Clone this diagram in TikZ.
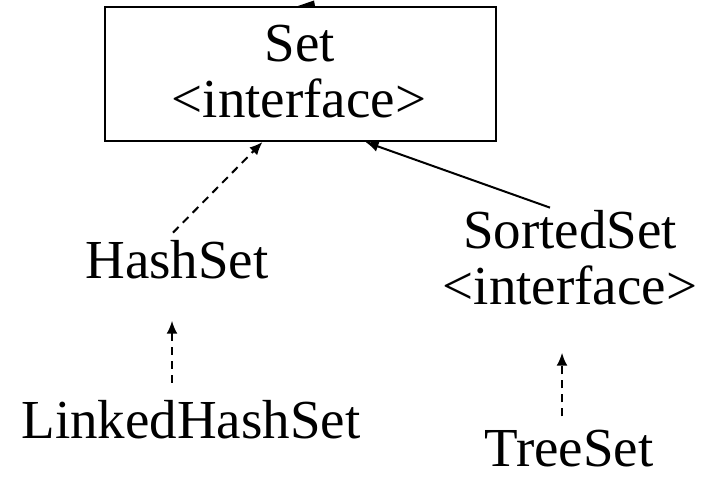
\documentclass[tikz,border=0pt]{standalone}
\usepackage{fontspec}
\setmainfont{Liberation Serif}
\usetikzlibrary{arrows.meta,calc}
\begin{document}
\begin{tikzpicture}[x=1pt,y=-1pt,
  lbl/.style={inner sep=0pt,anchor=base,font=\fontsize{55}{60}\selectfont},
  conn/.style={line width=2pt,-{Latex[length=13pt,width=11pt]}},
  dconn/.style={conn,dash pattern=on 8pt off 6pt}]
\useasboundingbox (0,0) rectangle (710,481);
\fill[white] (0,0) rectangle (710,481);
% Set box
\node[draw,line width=2pt,minimum width=391pt,minimum height=134pt,inner sep=0pt] (set) at (300.5,74) {};
\node[lbl] (setA) at (300,62) {Set};
\node[lbl] (setB) at (299,118) {<interface>};
% other labels
\node[lbl] (hashset) at (177,279) {HashSet};
\node[lbl] (sortedA) at (570,249) {SortedSet};
\node[lbl] (sortedB) at (570,305) {<interface>};
\node[lbl] (linked) at (191,438) {LinkedHashSet};
\node[lbl] (treeset) at (569,466) {TreeSet};
% connectors
\draw[dconn] ([shift={(-4,-8)}]hashset.north) -- ([xshift=-38pt]set.south);
\draw[conn] ([shift={(-20,-3)}]sortedA.north) -- ([xshift=65pt]set.south);
\draw[dconn] ([shift={(-19,-17)}]linked.north) -- ([shift={(-5,41)}]hashset.south);
\draw[dconn] ([shift={(-7,-13)}]treeset.north) -- ([shift={(-8,47)}]sortedB.south);
% cut-off arrow tip at the top edge
\fill (298,6) -- (314,0.5) -- (315,6) -- cycle;
\end{tikzpicture}
\end{document}
